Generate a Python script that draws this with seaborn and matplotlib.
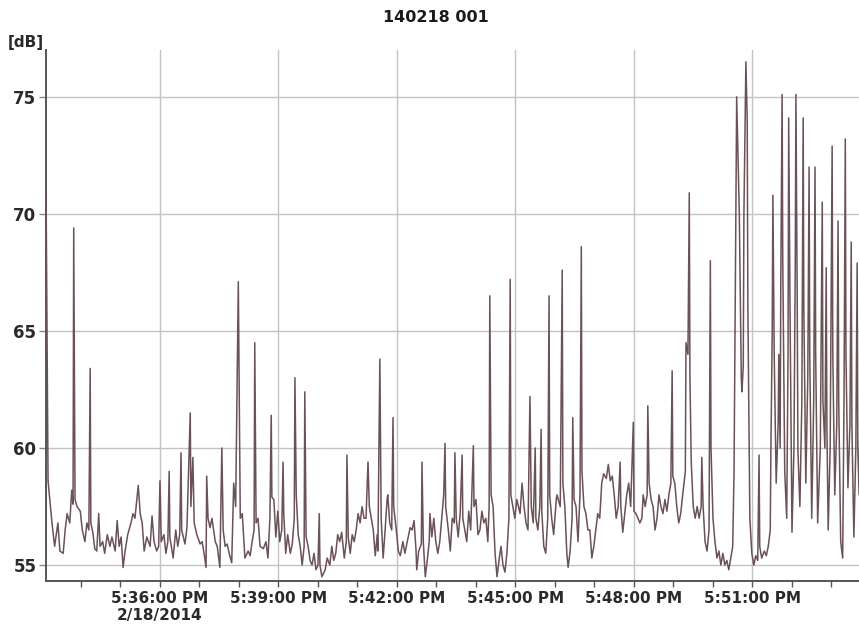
#!/usr/bin/env python3
"""
Sound level trace 140218 001, recorded 2/18/2014 from about 5:33 to 5:53 PM.
Levels are read off the printed chart; time is seconds after 5:33:00 PM.
"""
import matplotlib
matplotlib.use("Agg")
import matplotlib.pyplot as plt
import matplotlib.dates as mdates
import pandas as pd
import seaborn as sns

TITLE = "140218 001"
START = pd.Timestamp("2014-02-18 17:33:00")

# seconds after 5:33:00 PM
elapsed_s = [
    7, 10, 16, 20, 25, 28, 33, 36, 39, 43, 46, 48, 49, 51, 54, 59, 62, 66, 69, 72,
    74, 75, 78, 81, 84, 87, 89, 93, 96, 100, 104, 107, 112, 115, 118, 121, 124, 127, 131, 136,
    139, 142, 147, 150, 153, 156, 160, 165, 168, 171, 175, 178,
    # 5:36
    180, 182, 186, 189, 192, 194, 195, 200, 204, 207, 210, 212, 213, 218, 221, 226, 227, 230, 232, 236,
    241, 244, 247, 250, 251, 253, 256, 259, 264, 267, 271, 274, 276, 279, 282, 286, 289, 292, 295, 299,
    302, 305, 309, 314, 317, 320, 323, 324, 326, 329,
    332, 337, 341, 344, 347, 349, 350, 353, 356, 359, 362, 365, 367, 368, 371, 374, 378, 381, 384, 385,
    387, 390, 393, 396, 399, 400, 402, 405, 408, 411, 414, 417, 420, 422, 423, 426, 431, 434, 438, 441,
    444, 447, 450, 453, 456, 460, 463, 464, 466, 469, 472, 475, 478, 481,
    # 5:41
    484, 487, 490, 493, 496, 498, 501, 504, 507, 510, 511, 514, 516, 519, 522, 525, 526, 529, 532, 534,
    535, 539, 542, 545, 549, 552, 557, 560, 563, 566, 569, 570, 573, 577, 578, 580, 583, 586, 589, 590,
    593, 596, 599, 602, 605, 608, 611,
    613, 614, 618, 621, 624, 627, 628, 630, 633, 636, 639, 640, 643, 646, 649, 652, 656, 657, 660, 663,
    666, 669, 672, 675, 678, 680, 681, 683, 686, 689, 692, 695, 698, 701, 704, 707, 710, 712, 713, 716,
    719, 722, 727, 730, 733, 736, 739, 742, 744, 747, 750, 751, 754, 757, 759, 760, 763, 766, 769, 771,
    772, 775, 778, 782, 783,
    # 5:46
    788, 791, 792, 795, 798, 800, 803, 806, 807, 809, 812, 815, 818, 820, 821, 824, 827, 830, 833, 836,
    839, 842, 845, 848, 851, 854, 858, 861, 864, 867, 870, 873, 876, 879, 880, 883, 886, 889, 892, 895,
    899, 900, 903, 906, 909, 912, 914, 917, 920, 921, 923, 926, 929, 932, 935, 938, 941, 944, 947, 950,
    953,
    956, 958, 959, 962, 965, 968, 971, 974, 978, 979, 982, 984, 985, 987, 990, 993, 996, 999, 1002, 1003,
    1005, 1008, 1011, 1014, 1016, 1017, 1020, 1023, 1026, 1029, 1032, 1035, 1038, 1041, 1044, 1047, 1050,
    # 5:50:30
    1052, 1053, 1055, 1056, 1060, 1063, 1064, 1066, 1067, 1069, 1070, 1072, 1073, 1075, 1076, 1079, 1082, 1085, 1088, 1090,
    1091, 1094, 1098, 1101, 1104, 1107, 1108, 1110, 1111, 1113, 1116, 1119, 1120, 1122, 1123, 1125, 1126, 1129, 1132, 1134,
    1135, 1137, 1140, 1143, 1145, 1146, 1148, 1149, 1152, 1155, 1157, 1158, 1161,
    1164, 1166, 1167, 1170, 1173, 1175, 1176, 1179, 1183, 1186, 1187, 1190, 1192, 1193, 1195, 1198, 1201, 1202, 1205, 1208,
    1210, 1211, 1214, 1217, 1219, 1221, 1222, 1225, 1228, 1230, 1231, 1234, 1237, 1239, 1240, 1242, 1245,
]

level_db = [
    71.0, 58.6, 56.8, 55.8, 56.8, 55.6, 55.5, 56.5, 57.2, 56.8, 58.2, 57.6, 69.4, 57.8, 57.5, 57.3, 56.5, 56.0, 56.8, 56.5,
    63.4, 56.8, 56.4, 55.7, 55.6, 57.2, 55.8, 56.0, 55.5, 56.3, 55.8, 56.2, 55.6, 56.9, 55.8, 56.2, 54.9, 55.6, 56.3, 56.8,
    57.2, 57.0, 58.4, 57.2, 56.8, 55.6, 56.2, 55.8, 57.1, 56.0, 55.6, 55.8,
    # 5:36
    58.6, 56.0, 56.3, 55.5, 56.0, 59.0, 56.2, 55.3, 56.5, 55.8, 56.3, 59.8, 56.5, 55.9, 56.6, 61.5, 57.5, 59.6, 56.8, 56.3,
    55.9, 56.0, 55.5, 54.9, 58.8, 57.0, 56.6, 57.0, 56.0, 55.8, 54.9, 60.0, 56.5, 55.8, 55.9, 55.4, 55.1, 58.5, 57.5, 67.1,
    57.0, 57.2, 55.3, 55.6, 55.4, 56.0, 56.5, 64.5, 56.8, 57.0,
    55.8, 55.7, 56.0, 55.3, 57.0, 61.4, 57.9, 57.8, 56.2, 57.3, 56.0, 56.5, 59.4, 57.2, 55.5, 56.3, 55.5, 55.9, 57.0, 63.0,
    58.0, 56.3, 55.8, 55.0, 55.8, 62.4, 56.2, 55.8, 55.2, 55.0, 55.5, 54.8, 55.0, 57.2, 55.0, 54.5, 54.8, 55.3, 55.0, 55.8,
    55.2, 55.5, 56.3, 56.0, 56.4, 55.3, 56.0, 59.7, 56.2, 55.5, 56.3, 56.0, 56.5, 57.2,
    # 5:41
    56.8, 57.5, 57.0, 57.0, 59.4, 57.5, 57.0, 56.5, 55.4, 56.3, 55.6, 63.8, 57.0, 55.3, 56.5, 57.8, 58.0, 56.8, 56.5, 61.3,
    57.5, 56.5, 55.6, 55.4, 56.0, 55.5, 56.2, 56.6, 56.5, 56.9, 55.6, 54.8, 55.6, 55.9, 59.4, 56.0, 54.5, 55.2, 56.0, 57.2,
    56.2, 57.0, 56.0, 55.5, 56.0, 57.0, 58.0,
    60.2, 57.5, 56.5, 55.6, 57.0, 56.8, 59.8, 57.0, 56.2, 57.2, 59.7, 57.0, 56.5, 56.0, 57.3, 56.5, 60.1, 57.5, 57.8, 56.3,
    56.5, 57.3, 56.8, 57.0, 56.0, 57.5, 66.5, 58.0, 57.5, 55.5, 54.5, 55.2, 55.8, 55.0, 54.7, 55.5, 57.0, 67.2, 58.0, 57.5,
    57.0, 57.8, 57.2, 58.5, 57.5, 56.8, 56.5, 62.2, 57.5, 56.8, 60.0, 57.0, 56.5, 57.5, 60.8, 57.3, 55.8, 55.5, 57.0, 66.5,
    58.0, 57.0, 56.3, 57.8, 58.0,
    # 5:46
    57.5, 67.6, 58.5, 57.5, 55.5, 54.9, 55.6, 57.0, 61.3, 57.8, 57.5, 56.0, 58.0, 68.6, 59.0, 57.5, 57.2, 56.5, 56.5, 55.3,
    55.8, 56.5, 57.2, 57.0, 58.5, 58.9, 58.7, 59.3, 58.6, 58.8, 58.0, 57.0, 57.5, 59.4, 57.5, 56.4, 57.2, 58.0, 58.5, 57.5,
    61.1, 57.3, 57.2, 57.0, 56.8, 57.0, 58.0, 57.5, 58.0, 61.8, 58.5, 57.8, 57.5, 56.5, 57.0, 58.0, 57.5, 57.2, 57.8, 57.3,
    58.0,
    58.5, 63.3, 58.8, 58.5, 57.5, 56.8, 57.2, 58.0, 59.0, 64.5, 64.0, 70.9, 63.0, 59.4, 57.5, 57.0, 57.5, 57.0, 57.5, 59.6,
    57.5, 56.0, 55.6, 56.5, 68.0, 60.0, 57.0, 56.0, 55.3, 55.6, 55.0, 55.5, 55.0, 55.2, 54.8, 55.3, 55.8,
    # 5:50:30
    59.0, 63.0, 70.5, 75.0, 70.0, 63.0, 62.4, 63.5, 70.0, 74.5, 76.5, 74.0, 66.0, 60.0, 57.0, 55.5, 55.0, 55.4, 55.2, 59.7,
    55.8, 55.3, 55.6, 55.4, 55.8, 56.5, 60.0, 65.0, 70.8, 64.0, 58.5, 61.0, 64.0, 60.0, 67.0, 75.1, 68.0, 59.0, 57.0, 64.0,
    74.1, 66.0, 56.4, 60.0, 68.0, 75.1, 66.0, 59.9, 57.5, 62.0, 74.1, 66.0, 58.5,
    63.0, 72.0, 64.0, 57.0, 62.0, 72.0, 64.0, 56.8, 60.0, 70.5, 62.0, 60.0, 67.7, 61.0, 56.5, 60.0, 72.9, 64.0, 58.0, 61.0,
    69.7, 62.0, 56.0, 55.3, 62.0, 73.2, 64.0, 58.3, 61.0, 68.8, 61.0, 56.2, 60.0, 67.9, 60.0, 58.0, 66.0,
]

y_ticks = [55, 60, 65, 70, 75]
x_tick_minutes = [3, 6, 9, 12, 15, 18]
x_tick_labels = ["5:36:00 PM\n2/18/2014", "5:39:00 PM", "5:42:00 PM",
                 "5:45:00 PM", "5:48:00 PM", "5:51:00 PM"]

assert len(elapsed_s) == len(level_db)

df = pd.DataFrame({
    "time": START + pd.to_timedelta(elapsed_s, unit="s"),
    "level": level_db,
})

sns.set_style("white")
plt.rcParams["font.family"] = ["DejaVu Sans"]

W, H = 859, 631
fig = plt.figure(figsize=(W / 100, H / 100), dpi=100)
ax = fig.add_axes([46 / W, 50 / H, (W - 46) / W, 531 / H])

sns.lineplot(data=df, x="time", y="level", ax=ax, color="#6a5256",
             linewidth=1.1, estimator=None, sort=False, zorder=3)

ax.set_xlim(START + pd.Timedelta(seconds=6.9), START + pd.Timedelta(seconds=1241.8))
ax.set_ylim(54.32, 77.0)

ax.set_xticks([START + pd.Timedelta(minutes=m) for m in x_tick_minutes])
ax.set_xticklabels(x_tick_labels)
ax.xaxis.set_minor_locator(mdates.MinuteLocator())
ax.set_yticks(y_ticks)

ax.grid(True, which="major", color="#c2c2c2", linewidth=1.0, zorder=0)
ax.set_xlabel("")
ax.set_ylabel("")

for side in ["top", "right"]:
    ax.spines[side].set_visible(False)
for side in ["left", "bottom"]:
    ax.spines[side].set_color("#555555")
    ax.spines[side].set_linewidth(1.4)

ax.tick_params(axis="x", which="both", direction="out", length=4, width=1.0,
               color="#555555", bottom=True, pad=3)
ax.tick_params(axis="x", which="major", labelsize=11, labelcolor="#2a2a2a")
ax.tick_params(axis="y", direction="out", length=5, width=1.0, color="#888888",
               left=True, pad=2, labelsize=12, labelcolor="#2a2a2a")
for lbl in ax.get_xticklabels() + ax.get_yticklabels():
    lbl.set_fontweight("bold")

fig.text(8 / W, 1 - 42 / H, "[dB]", fontsize=11, fontweight="bold",
         color="#2a2a2a", ha="left", va="center")
fig.text(436 / W, 1 - 18 / H, TITLE, fontsize=11.5, fontweight="bold",
         color="#1a1a1a", ha="center", va="center")

fig.savefig("out.png", dpi=100)
plt.close(fig)
